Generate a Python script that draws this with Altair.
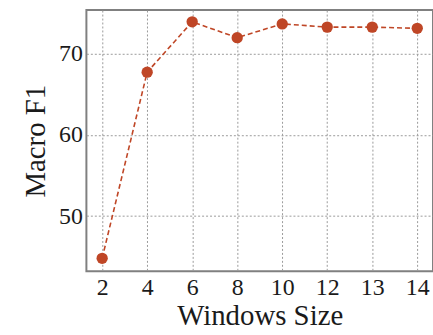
import altair as alt
import pandas as pd

# Macro F1 for each sliding-window size
window_sizes = ["2", "4", "6", "8", "10", "12", "13", "14"]
macro_f1 = [44.8, 67.75, 73.95, 72.0, 73.7, 73.3, 73.3, 73.15]

df = pd.DataFrame({"window": window_sizes, "f1": macro_f1})

color = "#bf4626"
serif = "Liberation Serif, Times New Roman, Times, serif"

x = alt.X(
    "window:N",
    sort=window_sizes,
    scale=alt.Scale(type="point", padding=0.35),
    axis=alt.Axis(
        title="Windows Size",
        labelAngle=0,
        ticks=False,
        labelPadding=4,
        titlePadding=3,
        grid=True,
    ),
)
y = alt.Y(
    "f1:Q",
    scale=alt.Scale(domain=[43.2, 75.4], nice=False, zero=False),
    axis=alt.Axis(
        title="Macro F1",
        values=[50, 60, 70],
        ticks=False,
        labelPadding=4,
        titlePadding=8,
        grid=True,
    ),
)

line = alt.Chart(df).mark_line(
    color=color, strokeWidth=1.6, strokeDash=[5, 3]
).encode(x=x, y=y)

points = alt.Chart(df).mark_point(
    filled=True, color=color, size=130, opacity=1
).encode(x=x, y=y)

chart = (
    (line + points)
    .properties(
        width=349,
        height=263,
        autosize=alt.AutoSizeParams(type="none"),
        padding={"left": 87, "top": 9, "right": 0, "bottom": 63},
    )
    .configure_view(stroke="#808080", strokeWidth=2)
    .configure_axis(
        domain=False,
        gridColor="#9a9a9a",
        gridDash=[2, 2],
        gridWidth=1,
        labelFont=serif,
        labelFontSize=24,
        labelColor="#1a1a1a",
        titleFont=serif,
        titleFontSize=29,
        titleFontWeight="normal",
        titleColor="#1a1a1a",
    )
)

chart.save("out.html", embed_options={"renderer": "svg", "actions": False})
